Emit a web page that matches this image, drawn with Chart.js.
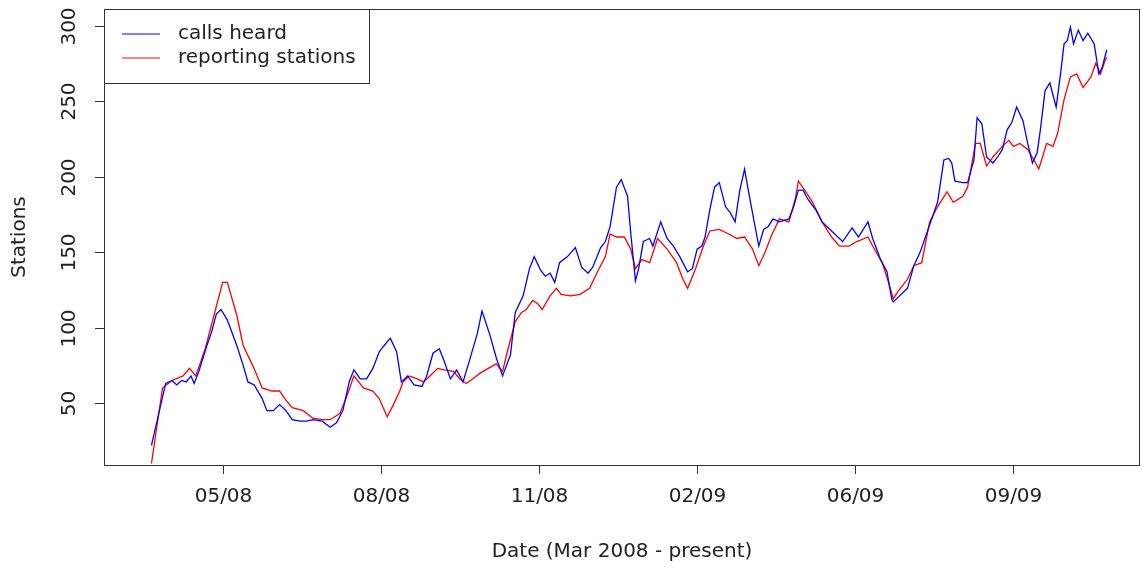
<!DOCTYPE html>
<html>
<head>
<meta charset="utf-8">
<script src="https://cdn.jsdelivr.net/npm/chart.js@4/dist/chart.umd.min.js"></script>
<style>
  html, body { margin: 0; padding: 0; background: #fff; }
  canvas { display: block; }
</style>
</head>
<body>
<canvas id="stationsChart" width="1143" height="571"></canvas>
<script>
// days counted from the first sample (mid March 2008)
const callsDays = [0, 9, 13, 16, 19, 22, 25, 27, 30, 35, 38, 41, 44, 48, 54, 58, 61, 65, 70, 73, 77, 81, 85, 89, 94, 98, 102, 108, 113, 117, 121, 125, 128, 132, 136, 140, 144, 147, 151, 155,
  158, 162, 166, 171, 174, 178, 182, 185, 189, 193, 197, 201, 206, 209, 214, 218, 222, 227, 230, 235, 239, 242, 246, 249, 252, 255, 258, 263, 268, 272, 276, 279, 284, 287, 290, 294, 297, 301, 303, 306, 308, 311, 315,
  317, 322, 326, 330, 334, 339, 342, 345, 348, 350, 353, 356, 359, 363, 366, 369, 372, 375, 377, 380, 384, 387, 390, 393, 397, 403, 406, 409, 412, 415, 420, 424, 429, 434, 437, 443, 447, 453, 456, 461, 465, 468,
  469, 473, 478, 482, 486, 491, 494, 497, 501, 504, 506, 508, 513, 516, 520, 522, 525, 528, 532, 535, 538, 541, 544, 547, 551, 554, 557, 560, 562, 565, 568, 572, 575, 577, 579, 581, 583, 586, 589, 592, 596, 599, 601, 604];
const callsHeard = [22, 63, 65, 62, 65, 64, 68, 63, 71, 88, 97, 109, 112, 105, 88, 75, 64, 62, 53, 45, 45, 49, 45, 39, 38, 38, 39, 38, 34, 37, 45, 64, 72, 66, 66, 73, 84, 88, 93, 84,
  64, 68, 62, 61, 68, 83, 86, 78, 66, 72, 64, 78, 96, 111, 95, 80, 68, 82, 110, 121, 139, 147, 138, 134, 136, 130, 143, 147, 153, 140, 136, 140, 153, 157, 167, 193, 198, 187, 163, 131, 139, 157, 159,
  154, 170, 159, 154, 147, 137, 139, 152, 154, 160, 178, 193, 196, 180, 176, 170, 191, 205, 193, 176, 154, 165, 167, 172, 170, 172, 180, 191, 191, 185, 178, 170, 165, 160, 157, 166, 160, 170, 159, 145, 137, 119,
  117, 121, 126, 141, 150, 165, 174, 183, 211, 212, 209, 197, 196, 196, 211, 239, 235, 213, 209, 213, 218, 231, 236, 246, 237, 222, 209, 216, 231, 257, 262, 246, 270, 288, 290, 299, 288, 297, 290, 295, 288, 268, 272, 284];

const reportDays = [0, 7, 13, 20, 24, 28, 34, 39, 45, 48, 54, 58, 64, 70, 76, 81, 85, 89, 96, 102, 108, 113, 119, 123, 128, 134, 140, 144, 149, 153, 157,
  159, 163, 168, 172, 176, 181, 185, 191, 195, 199, 203, 208, 213, 218, 222, 225, 230, 234, 237, 241, 244, 247, 252, 256, 259, 265, 271, 277, 282, 287, 290, 294, 299, 303, 306, 310, 315,
  320, 326, 332, 336, 339, 344, 349, 353, 359, 365, 370, 375, 380, 384, 388, 392, 397, 403, 407, 409, 413, 418, 424, 430, 435, 441, 446, 453, 456, 462, 466, 469,
  472, 478, 482, 487, 492, 497, 503, 507, 513, 516, 521, 524, 528, 532, 538, 542, 545, 549, 554, 559, 561, 566, 570, 573, 577, 581, 585, 589, 594, 597, 600, 603, 604];
const reportingStations = [10, 60, 65, 68, 73, 68, 86, 106, 130, 130, 108, 88, 75, 60, 58, 58, 52, 47, 45, 40, 39, 39, 43, 53, 68, 60, 58, 53, 41, 49, 58,
  64, 68, 66, 64, 68, 73, 72, 71, 66, 63, 66, 70, 73, 76, 71, 84, 104, 110, 112, 118, 116, 112, 121, 126, 122, 121, 122, 126, 137, 147, 162, 160, 160, 152, 139, 145, 143,
  159, 152, 143, 132, 126, 139, 154, 164, 165, 162, 159, 160, 152, 141, 150, 161, 172, 170, 185, 197, 191, 183, 170, 160, 154, 154, 157, 160, 154, 143, 130, 119,
  124, 132, 141, 143, 170, 180, 190, 183, 187, 193, 222, 222, 207, 213, 220, 224, 220, 222, 218, 209, 205, 222, 220, 229, 251, 266, 268, 259, 266, 275, 268, 277, 279];

const dateTicks = [45, 145, 245, 345, 445, 545];
const dateTickLabels = ["05/08", "08/08", "11/08", "02/09", "06/09", "09/09"];
const stationTicks = [50, 100, 150, 200, 250, 300];

const FONT = "20px 'DejaVu Sans', sans-serif";
const INK = "#222";

const rPlotFrame = {
  id: "rPlotFrame",
  afterDraw(chart) {
    const c = chart.ctx;
    const area = chart.chartArea;
    const xs = chart.scales.x;
    const ys = chart.scales.y;

    c.save();
    c.strokeStyle = "#333";
    c.lineWidth = 1;
    c.strokeRect(area.left + 0.5, area.top + 0.5, area.right - area.left - 1, area.bottom - area.top);

    c.fillStyle = INK;
    c.font = FONT;

    // x ticks
    c.textAlign = "center";
    c.textBaseline = "middle";
    dateTicks.forEach((d, i) => {
      const px = Math.round(xs.getPixelForValue(d)) + 0.5;
      c.beginPath();
      c.moveTo(px, area.bottom);
      c.lineTo(px, area.bottom + 9);
      c.stroke();
      c.fillText(dateTickLabels[i], px, 497);
    });
    c.fillText("Date (Mar 2008 - present)", (area.left + area.right) / 2, 552);

    // y ticks, labels turned like R's las=0
    stationTicks.forEach((v) => {
      const py = Math.round(ys.getPixelForValue(v)) + 0.5;
      c.beginPath();
      c.moveTo(area.left - 9, py);
      c.lineTo(area.left, py);
      c.stroke();
      c.save();
      c.translate(70, py);
      c.rotate(-Math.PI / 2);
      c.fillText(String(v), 0, 0);
      c.restore();
    });
    c.save();
    c.translate(20, (area.top + area.bottom) / 2);
    c.rotate(-Math.PI / 2);
    c.fillText("Stations", 0, 0);
    c.restore();

    // legend box in the top left corner
    const lx = area.left;
    const ly = area.top;
    c.fillStyle = "#fff";
    c.fillRect(lx, ly, 265, 74);
    c.strokeRect(lx + 0.5, ly + 0.5, 265, 74);
    c.textAlign = "left";
    chart.data.datasets.forEach((ds, i) => {
      const yy = ly + 25 + i * 24;
      c.strokeStyle = ds.borderColor;
      c.beginPath();
      c.moveTo(lx + 18, yy);
      c.lineTo(lx + 56, yy);
      c.stroke();
      c.fillStyle = INK;
      c.fillText(ds.label, lx + 74, yy);
    });
    c.restore();
  },
};

const ctx = document.getElementById("stationsChart").getContext("2d");

new Chart(ctx, {
  type: "line",
  data: {
    datasets: [
      {
        label: "calls heard",
        data: callsDays.map((d, i) => ({ x: d, y: callsHeard[i] })),
        borderColor: "#0000ff",
        borderWidth: 1.3,
        pointRadius: 0,
        tension: 0,
      },
      {
        label: "reporting stations",
        data: reportDays.map((d, i) => ({ x: d, y: reportingStations[i] })),
        borderColor: "#ff0000",
        borderWidth: 1.3,
        pointRadius: 0,
        tension: 0,
      },
    ],
  },
  options: {
    responsive: false,
    animation: false,
    layout: { padding: { top: 9, right: 3, left: 0, bottom: 0 } },
    plugins: {
      legend: { display: false },
      tooltip: { enabled: false },
    },
    scales: {
      x: {
        type: "linear",
        min: -30,
        max: 625,
        grid: { display: false },
        border: { display: false },
        ticks: { display: false },
        afterFit: (scale) => { scale.height = 106; },
      },
      y: {
        min: 9,
        max: 311,
        grid: { display: false },
        border: { display: false },
        ticks: { display: false },
        afterFit: (scale) => { scale.width = 104; },
      },
    },
  },
  plugins: [rPlotFrame],
});
</script>
</body>
</html>
